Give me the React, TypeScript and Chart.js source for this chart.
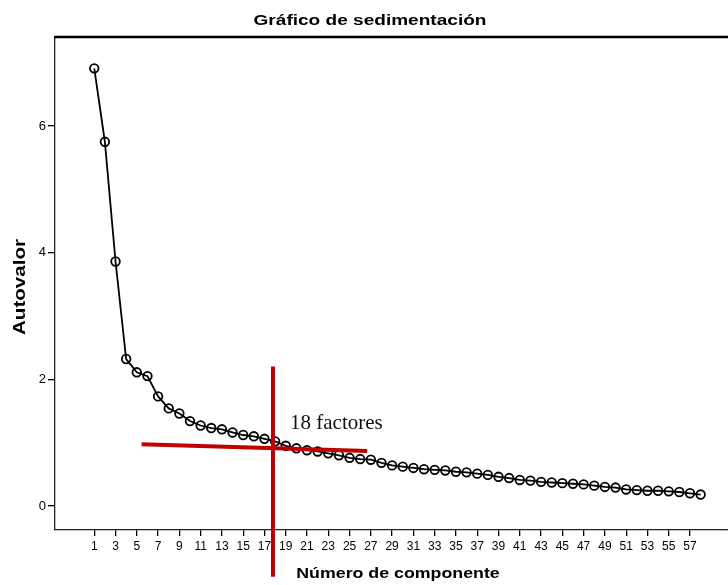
import { useEffect, useRef } from 'react';
import { Chart, registerables } from 'chart.js';

Chart.register(...registerables);

// Component numbers (x) and eigenvalues (y)
const components = [
  1, 2, 3, 4, 5, 6, 7, 8, 9, 10,
  11, 12, 13, 14, 15, 16, 17, 18, 19, 20,
  21, 22, 23, 24, 25, 26, 27, 28, 29, 30,
  31, 32, 33, 34, 35, 36, 37, 38, 39, 40,
  41, 42, 43, 44, 45, 46, 47, 48, 49, 50,
  51, 52, 53, 54, 55, 56, 57, 58,
];
const eigenvalues = [
  6.91, 5.75, 3.86, 2.32, 2.11, 2.05, 1.73, 1.54, 1.46, 1.34,
  1.27, 1.23, 1.21, 1.16, 1.12, 1.10, 1.06, 1.02, 0.95, 0.91,
  0.88, 0.86, 0.83, 0.80, 0.76, 0.74, 0.73, 0.68, 0.64, 0.62,
  0.60, 0.58, 0.57, 0.56, 0.54, 0.53, 0.51, 0.49, 0.46, 0.44,
  0.41, 0.40, 0.38, 0.37, 0.36, 0.35, 0.34, 0.32, 0.30, 0.29,
  0.26, 0.25, 0.24, 0.24, 0.23, 0.22, 0.20, 0.18,
];
const xTickValues = [
  1, 3, 5, 7, 9, 11, 13, 15, 17, 19, 21, 23, 25, 27, 29,
  31, 33, 35, 37, 39, 41, 43, 45, 47, 49, 51, 53, 55, 57,
];
const yTickValues = [0, 2, 4, 6];

const chartTitle = 'Gráfico de sedimentación';
const xTitle = 'Número de componente';
const yTitle = 'Autovalor';

// Red cut-off marks (data units)
const cutoffVertical = { x: 17.8, yFrom: 2.2, yTo: -1.12 };
const cutoffHorizontal = { xFrom: 5.45, yFrom: 0.975, xTo: 26.66, yTo: 0.868 };
const annotationLabel = { text: '18 factores', x: 19.4, y: 1.21 };

const SANS = '"Liberation Sans", Arial, sans-serif';
const SERIF = '"Liberation Serif", "Times New Roman", serif';

export default function App() {
  const ref = useRef<HTMLCanvasElement>(null);

  useEffect(() => {
    document.body.style.margin = '0';
    const canvas = ref.current!;

    const overlay = {
      id: 'overlay',
      afterDatasetsDraw(chart: any) {
        const ctx = chart.ctx;
        const xs = chart.scales.x;
        const ys = chart.scales.y;
        ctx.save();
        ctx.strokeStyle = '#C00000';
        ctx.lineWidth = 4;
        ctx.lineCap = 'butt';
        ctx.beginPath();
        ctx.moveTo(xs.getPixelForValue(cutoffHorizontal.xFrom), ys.getPixelForValue(cutoffHorizontal.yFrom));
        ctx.lineTo(xs.getPixelForValue(cutoffHorizontal.xTo), ys.getPixelForValue(cutoffHorizontal.yTo));
        ctx.stroke();
        ctx.beginPath();
        ctx.moveTo(xs.getPixelForValue(cutoffVertical.x), ys.getPixelForValue(cutoffVertical.yFrom));
        ctx.lineTo(xs.getPixelForValue(cutoffVertical.x), ys.getPixelForValue(cutoffVertical.yTo));
        ctx.stroke();
        ctx.restore();
      },
      afterDraw(chart: any) {
        const ctx = chart.ctx;
        const xs = chart.scales.x;
        const ys = chart.scales.y;
        const area = chart.chartArea;
        ctx.save();
        // top frame line
        ctx.strokeStyle = '#000';
        ctx.lineWidth = 2.5;
        ctx.beginPath();
        ctx.moveTo(area.left - 0.7, area.top);
        ctx.lineTo(chart.width, area.top);
        ctx.stroke();
        // continue the bottom axis line to the canvas edge
        const by = Math.round(xs.top - 0.65) + 0.65;
        ctx.strokeStyle = '#222';
        ctx.lineWidth = 1.3;
        ctx.beginPath();
        ctx.moveTo(area.right - 1, by);
        ctx.lineTo(chart.width, by);
        ctx.stroke();

        ctx.fillStyle = '#000';
        // chart title
        ctx.save();
        ctx.font = 'bold 15px ' + SANS;
        ctx.textAlign = 'center';
        ctx.textBaseline = 'alphabetic';
        ctx.translate(370, 25);
        ctx.scale(1.27, 1);
        ctx.fillText(chartTitle, 0, 0);
        ctx.restore();

        // x title
        ctx.save();
        ctx.font = 'bold 14px ' + SANS;
        ctx.textAlign = 'center';
        ctx.textBaseline = 'alphabetic';
        ctx.translate(398, 578);
        ctx.scale(1.27, 1);
        ctx.fillText(xTitle, 0, 0);
        ctx.restore();

        // y title
        ctx.save();
        ctx.font = 'bold 17px ' + SANS;
        ctx.textAlign = 'center';
        ctx.textBaseline = 'alphabetic';
        ctx.translate(25, 287);
        ctx.rotate(-Math.PI / 2);
        ctx.scale(1.21, 1);
        ctx.fillText(yTitle, 0, 0);
        ctx.restore();

        // annotation
        ctx.font = '21px ' + SERIF;
        ctx.textAlign = 'left';
        ctx.textBaseline = 'alphabetic';
        ctx.fillStyle = '#111';
        ctx.fillText(annotationLabel.text, xs.getPixelForValue(annotationLabel.x), ys.getPixelForValue(annotationLabel.y));
        ctx.restore();
      },
    };

    const chart = new Chart(canvas, {
      type: 'line',
      data: {
        datasets: [
          {
            data: components.map((c, i) => ({ x: c, y: eigenvalues[i] })),
            borderColor: '#000',
            borderWidth: 1.8,
            pointRadius: 4.3,
            pointBorderWidth: 1.8,
            pointBackgroundColor: 'rgba(0,0,0,0)',
            pointBorderColor: '#000',
            tension: 0,
            fill: false,
          },
        ],
      },
      options: {
        animation: false,
        responsive: false,
        devicePixelRatio: 1,
        layout: { padding: { top: 37, left: 0, right: 0, bottom: 0 } },
        plugins: {
          legend: { display: false },
          tooltip: { enabled: false },
          title: { display: false },
        },
        scales: {
          x: {
            type: 'linear',
            min: -2.69,
            max: 60.0,
            afterFit(s: any) {
              s.height = 55;
            },
            afterBuildTicks(s: any) {
              s.ticks = xTickValues.map((v) => ({ value: v }));
            },
            ticks: {
              autoSkip: false,
              maxRotation: 0,
              minRotation: 0,
              font: { family: SANS, size: 12 },
              color: '#000',
              padding: 3,
              callback: (v: any) => String(v),
            },
            grid: { drawOnChartArea: false, drawTicks: true, tickLength: 6, color: '#000', lineWidth: 1.3 },
            border: { display: true, color: '#222', width: 1.3 },
          },
          y: {
            type: 'linear',
            min: -0.38,
            max: 7.405,
            afterFit(s: any) {
              s.width = 55;
            },
            afterBuildTicks(s: any) {
              s.ticks = yTickValues.map((v) => ({ value: v }));
            },
            ticks: {
              font: { family: SANS, size: 13 },
              color: '#000',
              padding: 2,
              callback: (v: any) => String(v),
            },
            grid: { drawOnChartArea: false, drawTicks: true, tickLength: 7, color: '#000', lineWidth: 1.3 },
            border: { display: true, color: '#222', width: 1.3 },
          },
        },
      },
      plugins: [overlay],
    } as any);

    return () => chart.destroy();
  }, []);

  return (
    <canvas ref={ref} width={728} height={585} style={{ display: 'block', width: 728, height: 585 }} />
  );
}
